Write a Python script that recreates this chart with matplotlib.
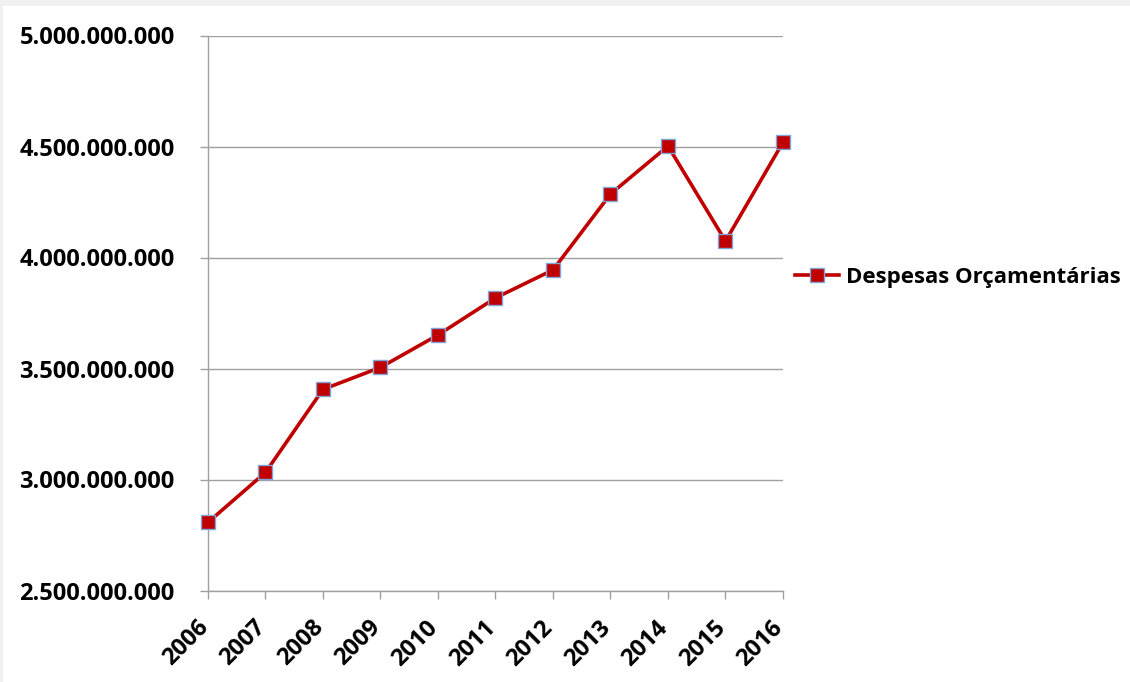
import matplotlib.pyplot as plt
import matplotlib.transforms as mtransforms
from matplotlib.patches import Rectangle
from matplotlib.ticker import FuncFormatter, MultipleLocator

# Despesas orçamentárias por ano
anos = [2006, 2007, 2008, 2009, 2010, 2011, 2012, 2013, 2014, 2015, 2016]
despesas = [2.807e9, 3.032e9, 3.406e9, 3.505e9, 3.651e9, 3.818e9,
            3.944e9, 4.286e9, 4.502e9, 4.074e9, 4.519e9]
serie_nome = 'Despesas Orçamentárias'

plt.rcParams['font.family'] = ['Open Sans', 'DejaVu Sans']
plt.rcParams['font.weight'] = 'bold'

fig = plt.figure(figsize=(11.30, 6.82), dpi=100, facecolor='#f0f0f0')
# white chart area (gray strip on top/left like the screenshot)
fig.patches.append(Rectangle((3 / 1130, 0), 1, 1 - 6 / 682, transform=fig.transFigure,
                             facecolor='white', edgecolor='none', zorder=-1))

ax = fig.add_axes([208 / 1130, 1 - 590.5 / 682, (783 - 208) / 1130, (590.5 - 35.5) / 682])
ax.set_facecolor('none')

ax.plot(anos, despesas, color='#c00000', lw=2.6, marker='s', markersize=10,
        markerfacecolor='#c00000', markeredgecolor='#7ea6d9', markeredgewidth=1.0,
        label=serie_nome, zorder=3, clip_on=False)

ax.set_xlim(2006, 2016)
ax.set_ylim(2.5e9, 5e9)
ax.yaxis.set_major_locator(MultipleLocator(0.5e9))
ax.yaxis.set_major_formatter(FuncFormatter(lambda v, p: f'{v:,.0f}'.replace(',', '.')))
ax.set_xticks(anos)
ax.set_xticklabels([str(a) for a in anos], rotation=45, ha='right', va='top')

ax.grid(axis='y', color='#a0a0a0', lw=1.0)
for s in ['top', 'right']:
    ax.spines[s].set_visible(False)
for s in ['left', 'bottom']:
    ax.spines[s].set_color('#a0a0a0')
    ax.spines[s].set_linewidth(1.0)

ax.tick_params(axis='y', length=6, width=1.0, color='#a0a0a0', pad=18, labelsize=17)
ax.tick_params(axis='x', length=6, width=1.0, color='#a0a0a0', pad=12, labelsize=17)
shift = mtransforms.ScaledTranslation(5 / 100, 0, fig.dpi_scale_trans)
for lbl in ax.get_xticklabels():
    lbl.set_fontweight('bold')
    lbl.set_transform(lbl.get_transform() + shift)
for lbl in ax.get_yticklabels():
    lbl.set_fontweight('bold')

fig.legend(loc='center left', bbox_to_anchor=(786 / 1130, 1 - 277 / 682), frameon=False,
           prop={'size': 16, 'weight': 'bold'}, handlelength=2.0, handletextpad=0.3,
           borderaxespad=0)

fig.savefig('out.png', dpi=100, facecolor=fig.get_facecolor())
